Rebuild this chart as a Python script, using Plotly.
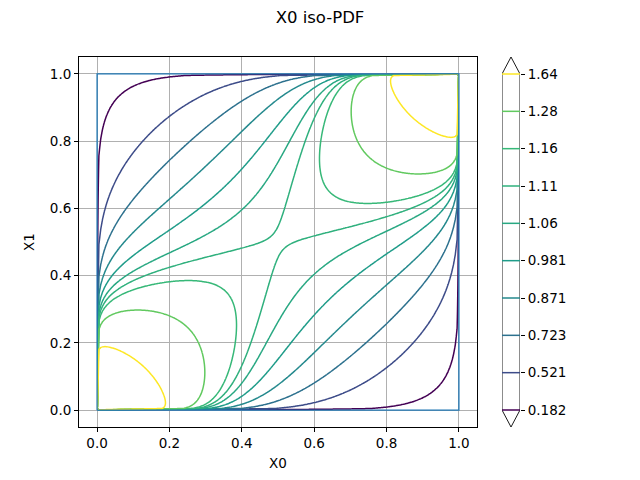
import numpy as np
import plotly.graph_objects as go
from plotly.colors import sample_colorscale

# ---- data -------------------------------------------------------------
levels = [0.182, 0.521, 0.723, 0.871, 0.981, 1.06, 1.11, 1.16, 1.28, 1.64]
level_labels = ["0.182", "0.521", "0.723", "0.871", "0.981",
                "1.06", "1.11", "1.16", "1.28", "1.64"]
axis_ticks = [0.0, 0.2, 0.4, 0.6, 0.8, 1.0]
axis_tick_labels = ["0.0", "0.2", "0.4", "0.6", "0.8", "1.0"]
rho = 0.437           # correlation of the normal copula whose PDF is drawn
domain_lo, domain_hi = 0.0, 1.0
n_grid = 201


def norm_ppf(p):
    a = [-3.969683028665376e+01, 2.209460984245205e+02, -2.759285104469687e+02,
         1.383577518672690e+02, -3.066479806614716e+01, 2.506628277459239e+00]
    b = [-5.447609879822406e+01, 1.615858368580409e+02, -1.556989798598866e+02,
         6.680131188771972e+01, -1.328068155288572e+01]
    c = [-7.784894002430293e-03, -3.223964580411365e-01, -2.400758277161838e+00,
         -2.549671010739305e+00, 4.374664141464968e+00, 2.938163982698783e+00]
    d = [7.784695709041462e-03, 3.224671290700398e-01, 2.445134137142996e+00,
         3.754408661907416e+00]
    p = np.asarray(p, dtype=float)
    x = np.zeros_like(p)
    plow = 0.02425
    lo = p < plow
    hi = p > 1 - plow
    mid = ~(lo | hi)
    q = p[mid] - 0.5
    r = q * q
    x[mid] = (((((a[0]*r+a[1])*r+a[2])*r+a[3])*r+a[4])*r+a[5])*q / \
             (((((b[0]*r+b[1])*r+b[2])*r+b[3])*r+b[4])*r+1)
    q = np.sqrt(-2*np.log(p[lo]))
    x[lo] = (((((c[0]*q+c[1])*q+c[2])*q+c[3])*q+c[4])*q+c[5]) / \
            ((((d[0]*q+d[1])*q+d[2])*q+d[3])*q+1)
    q = np.sqrt(-2*np.log(1-p[hi]))
    x[hi] = -(((((c[0]*q+c[1])*q+c[2])*q+c[3])*q+c[4])*q+c[5]) / \
             ((((d[0]*q+d[1])*q+d[2])*q+d[3])*q+1)
    return x


def copula_pdf(u, v, r):
    U, V = np.meshgrid(u, v)
    inside = (U > 0) & (U < 1) & (V > 0) & (V < 1)
    Z = np.zeros_like(U)
    xs = norm_ppf(U[inside])
    ys = norm_ppf(V[inside])
    Z[inside] = np.exp(-(r*r*(xs*xs+ys*ys) - 2*r*xs*ys) / (2*(1-r*r))) / np.sqrt(1-r*r)
    return Z


grid = np.linspace(domain_lo, domain_hi, n_grid)
Z = copula_pdf(grid, grid, rho)

vmin, vmax = min(levels), max(levels)
level_colors = sample_colorscale("Viridis", [(l - vmin) / (vmax - vmin) for l in levels])

FONT = "DejaVu Sans"
fig = go.Figure()

for lev, col in zip(levels, level_colors):
    fig.add_trace(go.Contour(
        x=grid, y=grid, z=Z, autocontour=False,
        contours=dict(start=lev, end=lev, size=1, coloring="none"),
        line=dict(color=col, width=1.5, smoothing=0.6),
        showscale=False, hoverinfo="skip", xaxis="x", yaxis="y"))

# domain boundary square
fig.add_trace(go.Scatter(
    x=[domain_lo, domain_lo, domain_hi, domain_hi, domain_lo],
    y=[domain_lo, domain_hi, domain_hi, domain_lo, domain_lo],
    mode="lines", line=dict(color="#1f77b4", width=1.3),
    showlegend=False, hoverinfo="skip", xaxis="x", yaxis="y"))

# colorbar drawn on its own axes
n_lev = len(levels)
tip = 0.4553
fig.add_trace(go.Scatter(
    x=[0, 0, 0.5, 1, 1, 0.5, 0],
    y=[0, n_lev - 1, n_lev - 1 + tip, n_lev - 1, 0, -tip, 0],
    mode="lines", line=dict(color="black", width=0.9),
    cliponaxis=False, showlegend=False, hoverinfo="skip",
    xaxis="x2", yaxis="y2"))
for i, col in enumerate(level_colors):
    fig.add_trace(go.Scatter(
        x=[0, 1], y=[i, i], mode="lines", line=dict(color=col, width=1.5),
        cliponaxis=False, showlegend=False, hoverinfo="skip",
        xaxis="x2", yaxis="y2"))

W, H = 640, 480
ml, mr, mt, mb = 79, 80, 57, 53
pw = W - ml - mr
main_right = (477 - ml) / pw
cb_l, cb_r = (502 - ml) / pw, (520 - ml) / pw

axis_common = dict(showline=True, mirror=True, linecolor="black", linewidth=0.9,
                   ticks="outside", ticklen=4, tickwidth=0.9, tickcolor="black",
                   showgrid=True, gridcolor="#b0b0b0", gridwidth=0.9,
                   zeroline=False, tickfont=dict(family=FONT, size=13.5, color="black"))

fig.update_layout(
    width=W, height=H, margin=dict(l=ml, r=mr, t=mt, b=mb),
    paper_bgcolor="white", plot_bgcolor="white",
    font=dict(family=FONT, color="black"),
    showlegend=False,
    title=dict(text="X0 iso-PDF", x=0.5, xref="container", xanchor="center",
               y=1 - 17 / H, yref="container", yanchor="middle",
               font=dict(family=FONT, size=16.5, color="black")),
    xaxis=dict(domain=[0, main_right], range=[-0.05, 1.05],
               tickvals=axis_ticks, ticktext=axis_tick_labels,
               title=dict(text="X0", font=dict(family=FONT, size=13.5), standoff=8),
               **axis_common),
    yaxis=dict(domain=[0, 1], range=[-0.05, 1.05],
               tickvals=axis_ticks, ticktext=axis_tick_labels,
               title=dict(text="X1", font=dict(family=FONT, size=13.5), standoff=12),
               **axis_common),
    xaxis2=dict(domain=[cb_l, cb_r], range=[0, 1], visible=False, anchor="y2"),
    yaxis2=dict(domain=[0, 1], range=[-tip, n_lev - 1 + tip], anchor="x2",
                side="right", tickvals=list(range(n_lev)), ticktext=level_labels,
                ticks="outside", ticklen=4, tickwidth=0.9, tickcolor="black",
                showgrid=False, zeroline=False, showline=False,
                tickfont=dict(family=FONT, size=13.5, color="black")),
)

fig.write_html("out.html")
